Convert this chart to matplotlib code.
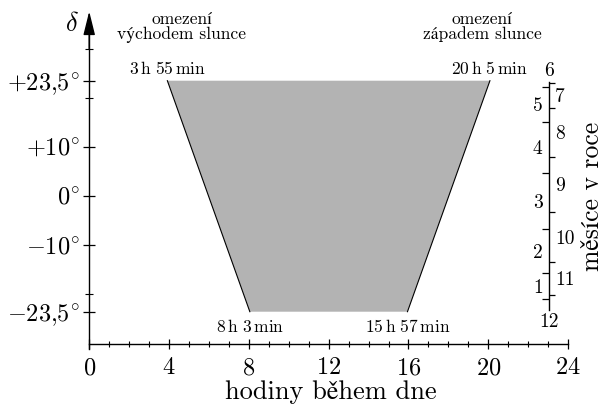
import matplotlib
matplotlib.use("Agg")
import matplotlib.pyplot as plt
from matplotlib.markers import TICKLEFT, TICKRIGHT
from matplotlib.ticker import FixedLocator

plt.rcParams["mathtext.fontset"] = "cm"
plt.rcParams["font.family"] = ["cmr10", "STIXGeneral"]
plt.rcParams["axes.formatter.use_mathtext"] = True

# --- data -------------------------------------------------------------
hour_major = [0, 4, 8, 12, 16, 20, 24]
hour_labels = ["0", "4", "8", "12", "16", "20", "24"]
hour_minor = [1, 2, 3, 5, 6, 7, 9, 10, 11, 13, 14, 15, 17, 18, 19, 21, 22, 23]

decl_major = [-23.5, -10, 0, 10, 23.5]
decl_labels = [r"$-23{,}5^{\!\circ}$", r"$-10^{\!\circ}$", r"$0^{\!\circ}$",
               r"$+10^{\!\circ}$", r"$+23{,}5^{\!\circ}$"]
decl_minor = [-20, 20, 30]

# declination limits and the sunrise / sunset times at those limits
decl_limits = [23.5, -23.5]
sunrise_h = [3, 8]
sunrise_min = [55, 3]
sunset_h = [20, 15]
sunset_min = [5, 57]

# month scale: declination of the Sun on the first day of each month
months_rising = [1, 2, 3, 4, 5, 6]
months_rising_start = [-20.98, -15.69, -6.73, 4.66, 15.16, 22.16]
months_falling = [7, 8, 9, 10, 11, 12]
months_falling_start = [23.09, 17.88, 8.04, -3.15, -13.33, -20.10]
year_decl_range = [23.2, -23.2]

# --- figure -----------------------------------------------------------
fig = plt.figure(figsize=(6.04, 4.04), dpi=100)
ax = fig.add_axes([0, 0, 1, 1])
ax.set_xlim(-4.471, 25.80)
ax.set_ylim(-42.28, 39.92)
ax.patch.set_visible(False)

for side in ("top", "right"):
    ax.spines[side].set_visible(False)
ax.spines["left"].set_position(("data", 0))
ax.spines["left"].set_bounds(-31.1, 34)
ax.spines["bottom"].set_position(("data", -30))
ax.spines["bottom"].set_bounds(0, 24)
for side in ("left", "bottom"):
    ax.spines[side].set_linewidth(1.0)

# y axis arrow
ax.annotate("", xy=(0, 37.6), xytext=(0, 30),
            arrowprops=dict(arrowstyle="-|>,head_length=1.45,head_width=0.36",
                            lw=1.0, color="black", shrinkA=0, shrinkB=0))

ax.xaxis.set_major_locator(FixedLocator(hour_major))
ax.xaxis.set_minor_locator(FixedLocator(hour_minor))
ax.set_xticklabels([f"${t}$" for t in hour_labels])
ax.yaxis.set_major_locator(FixedLocator(decl_major))
ax.yaxis.set_minor_locator(FixedLocator(decl_minor))
ax.set_yticklabels(decl_labels)

ax.tick_params(axis="x", which="major", direction="inout", length=7.2,
               width=0.9, pad=6.0, labelsize=17.5)
ax.tick_params(axis="x", which="minor", direction="inout", length=5.0,
               width=0.8)
ax.tick_params(axis="y", which="major", direction="inout", length=8.6,
               width=0.9, pad=2.3, labelsize=17.5)
ax.tick_params(axis="y", which="minor", direction="inout", length=5.8,
               width=0.8)

# region of daylight hours
rise = [h + m / 60 for h, m in zip(sunrise_h, sunrise_min)]
sset = [h + m / 60 for h, m in zip(sunset_h, sunset_min)]
ax.fill([rise[0], sset[0], sset[1], rise[1]],
        [decl_limits[0], decl_limits[0], decl_limits[1], decl_limits[1]],
        color="#b3b3b3", lw=0, zorder=1)
ax.plot(rise, decl_limits, color="black", lw=0.8, zorder=2)
ax.plot(sset, decl_limits, color="black", lw=0.8, zorder=2)


def time_label(h, m):
    return rf"${h}\,\mathrm{{h}}\ {m}\,\mathrm{{min}}$"


for i, dy in ((0, 4.8), (1, -14.8)):
    ax.annotate(time_label(sunrise_h[i], sunrise_min[i]),
                xy=(rise[i], decl_limits[i]), xytext=(0, dy),
                textcoords="offset points", ha="center", va="baseline",
                fontsize=12.6)
    ax.annotate(time_label(sunset_h[i], sunset_min[i]),
                xy=(sset[i], decl_limits[i]), xytext=(0, dy),
                textcoords="offset points", ha="center", va="baseline",
                fontsize=12.6)

# headings over the two slanted edges
ax.text(4.65, 34.97, "omezení", ha="center", va="baseline", fontsize=12.6)
ax.text(4.65, 31.9, "východem slunce", ha="center", va="baseline",
        fontsize=12.6)
ax.text(19.71, 34.97, "omezení", ha="center", va="baseline", fontsize=12.6)
ax.text(19.71, 31.9, "západem slunce", ha="center", va="baseline",
        fontsize=12.6)

# axis titles
ax.text(-0.89, 35, r"$\delta$", ha="center", va="center", fontsize=19)
ax.text(12.1, -41.3, "hodiny během dne", ha="center", va="baseline",
        fontsize=19)
ax.text(25.22, 0, "měsíce v roce", ha="center", va="center", rotation=90,
        fontsize=18.5)

# month scale
mx = 23.05
ax.plot([mx, mx], year_decl_range, color="black", lw=1.0)
ax.plot([mx] * len(months_falling_start), months_falling_start, ls="none",
        marker=TICKRIGHT, ms=4.2, mew=0.9, color="black")
ax.plot([mx] * len(months_rising_start), months_rising_start, ls="none",
        marker=TICKLEFT, ms=4.8, mew=0.9, color="black")

for i in range(len(months_rising) - 1):
    mid = (months_rising_start[i] + months_rising_start[i + 1]) / 2
    ax.annotate(str(months_rising[i]), xy=(mx, mid), xytext=(-4.7, 0),
                textcoords="offset points", ha="right", va="center_baseline",
                fontsize=14)
for i in range(len(months_falling) - 1):
    mid = (months_falling_start[i] + months_falling_start[i + 1]) / 2
    ax.annotate(str(months_falling[i]), xy=(mx, mid), xytext=(4.1, 0),
                textcoords="offset points", ha="left", va="center_baseline",
                fontsize=14)
ax.annotate(str(months_rising[-1]), xy=(mx, year_decl_range[0]),
            xytext=(0, 4.3), textcoords="offset points", ha="center",
            va="baseline", fontsize=14)
ax.annotate(str(months_falling[-1]), xy=(mx, year_decl_range[1]),
            xytext=(0, -11.9), textcoords="offset points", ha="center",
            va="baseline", fontsize=14)

fig.savefig("out.png", dpi=100)
